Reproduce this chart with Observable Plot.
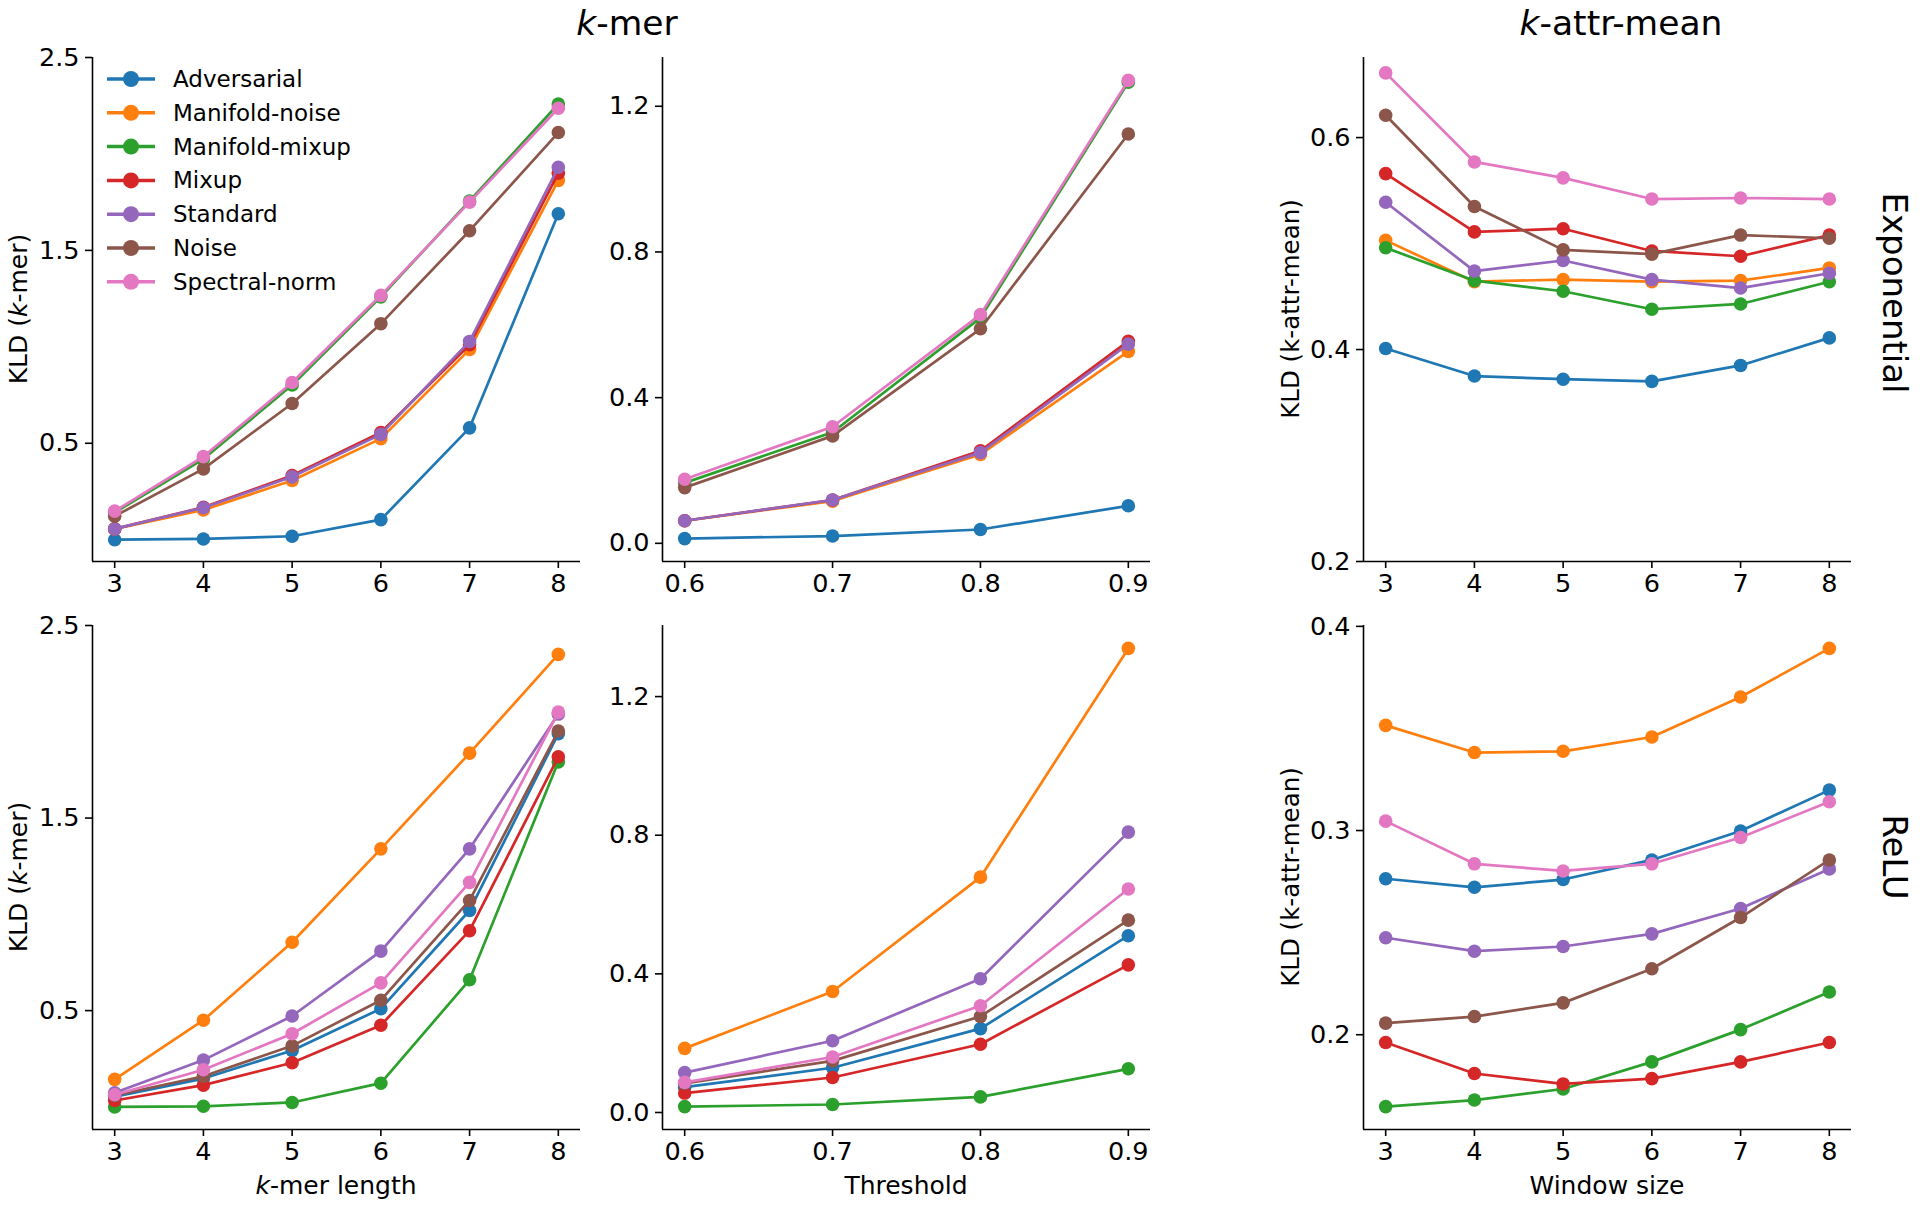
<!DOCTYPE html>
<html><head><meta charset="utf-8">
<script src="https://cdn.jsdelivr.net/npm/d3@7"></script>
<script src="https://cdn.jsdelivr.net/npm/@observablehq/plot@0.6"></script>
<style>
html,body{margin:0;padding:0;background:#fff;}
#root{position:relative;width:1920px;height:1207px;background:#fff;overflow:hidden;font-family:"DejaVu Sans",sans-serif;}
.panel{position:absolute;}
.panel svg{overflow:visible;}
#overlay{position:absolute;left:0;top:0;}
</style></head><body><div id="root"></div>
<script>
const methods = ["Adversarial","Manifold-noise","Manifold-mixup","Mixup","Standard","Noise","Spectral-norm"];
const colors = ["#1f77b4","#ff7f0e","#2ca02c","#d62728","#9467bd","#8c564b","#e377c2"];
const kmerLengths = [3,4,5,6,7,8];
const thresholds = [0.6,0.7,0.8,0.9];
const windowSizes = [3,4,5,6,7,8];

const kmerTicks = [0.5,1.5,2.5];
const thresholdTicks = [0.0,0.4,0.8,1.2];
const attrTicksExp = [0.2,0.4,0.6];
const attrTicksRelu = [0.2,0.3,0.4];

// rows follow the order of `methods`
const expKmerLength = [
  [0.000,0.004,0.018,0.104,0.580,1.690],
  [0.056,0.154,0.307,0.524,0.987,1.863],
  [0.141,0.418,0.802,1.259,1.756,2.259],
  [0.056,0.168,0.333,0.556,1.011,1.900],
  [0.056,0.166,0.326,0.546,1.028,1.931],
  [0.122,0.367,0.706,1.120,1.602,2.111],
  [0.148,0.431,0.815,1.267,1.750,2.237]
];
const expThreshold = [
  [0.013,0.020,0.038,0.103],
  [0.062,0.116,0.244,0.527],
  [0.166,0.305,0.619,1.266],
  [0.062,0.119,0.254,0.555],
  [0.062,0.119,0.249,0.547],
  [0.153,0.295,0.589,1.124],
  [0.176,0.320,0.628,1.271]
];
const expWindow = [
  [0.401,0.375,0.372,0.370,0.385,0.411],
  [0.503,0.464,0.466,0.464,0.465,0.477],
  [0.496,0.465,0.455,0.438,0.443,0.464],
  [0.566,0.511,0.514,0.493,0.488,0.508],
  [0.539,0.474,0.484,0.466,0.458,0.472],
  [0.621,0.535,0.494,0.490,0.508,0.505],
  [0.661,0.577,0.562,0.542,0.543,0.542]
];
const reluKmerLength = [
  [0.053,0.147,0.293,0.510,1.020,1.938],
  [0.143,0.450,0.855,1.340,1.837,2.350],
  [0.000,0.003,0.023,0.123,0.660,1.792],
  [0.033,0.113,0.229,0.424,0.915,1.818],
  [0.073,0.243,0.472,0.809,1.340,2.040],
  [0.059,0.159,0.317,0.554,1.072,1.952],
  [0.063,0.193,0.380,0.644,1.166,2.050]
];
const reluThreshold = [
  [0.073,0.129,0.242,0.510],
  [0.185,0.349,0.679,1.339],
  [0.017,0.023,0.045,0.126],
  [0.056,0.101,0.197,0.426],
  [0.115,0.207,0.386,0.809],
  [0.084,0.149,0.277,0.555],
  [0.087,0.160,0.308,0.645]
];
const reluWindow = [
  [0.2764,0.2722,0.2760,0.2856,0.2998,0.3198],
  [0.3515,0.3382,0.3388,0.3458,0.3654,0.3892],
  [0.1648,0.1680,0.1734,0.1867,0.2025,0.2209],
  [0.1962,0.1810,0.1759,0.1785,0.1867,0.1962],
  [0.2475,0.2409,0.2432,0.2494,0.2618,0.2812],
  [0.2057,0.2089,0.2156,0.2323,0.2574,0.2856],
  [0.3046,0.2837,0.2802,0.2837,0.2966,0.3141]
];

// layout
const cols = [[92,580],[662,1150],[1363,1851]];
const rows = [[57,561],[625,1129]];
const M = {left: 80, right: 20, top: 10, bottom: 50};
const LW = 2.7, R = 6.8, SPINE = 1.6, TICK = 25.5, LABEL = 25;

const root = document.getElementById("root");

function autoDomain(vals, ticks) {
  const lo = d3.min(vals), hi = d3.max(vals), pad = (hi - lo) * 0.05;
  let d = [lo - pad, hi + pad];
  if (ticks) { d[0] = Math.min(d[0], d3.min(ticks)); d[1] = Math.max(d[1], d3.max(ticks)); }
  return d;
}

function panel(col, row, xs, table, yTicks, xFmt) {
  const data = [];
  table.forEach((vals, i) => vals.forEach((v, j) => data.push({method: methods[i], x: xs[j], y: v, i})));
  const xd = autoDomain(xs);
  const yd = autoDomain(data.map(d => d.y), yTicks);
  const [x0, x1] = cols[col], [y0, y1] = rows[row];
  const marks = [
    Plot.ruleX([xd[0]], {stroke: "black", strokeWidth: SPINE}),
    Plot.ruleY([yd[0]], {stroke: "black", strokeWidth: SPINE}),
    Plot.axisX({ticks: xs, tickFormat: xFmt, tickSize: 7, tickPadding: 5, strokeWidth: SPINE, label: null, fontSize: TICK}),
    Plot.axisY({ticks: yTicks, tickFormat: d3.format(".1f"), tickSize: 7, tickPadding: 6, strokeWidth: SPINE, label: null, fontSize: TICK})
  ];
  methods.forEach((m, i) => {
    const s = data.filter(d => d.i === i);
    marks.push(Plot.line(s, {x: "x", y: "y", stroke: colors[i], strokeWidth: LW}));
    marks.push(Plot.dot(s, {x: "x", y: "y", fill: colors[i], r: R}));
  });
  const svg = Plot.plot({
    width: M.left + (x1 - x0) + M.right,
    height: M.top + (y1 - y0) + M.bottom,
    marginLeft: M.left, marginRight: M.right, marginTop: M.top, marginBottom: M.bottom,
    x: {domain: xd}, y: {domain: yd},
    style: {fontFamily: "DejaVu Sans", fontSize: TICK + "px", color: "black", background: "transparent", overflow: "visible"},
    marks
  });
  const div = document.createElement("div");
  div.className = "panel";
  div.style.left = (x0 - M.left) + "px";
  div.style.top = (y0 - M.top) + "px";
  div.appendChild(svg);
  root.appendChild(div);
}

const fInt = d3.format("d"), f1 = d3.format(".1f");
panel(0, 0, kmerLengths, expKmerLength, kmerTicks, fInt);
panel(1, 0, thresholds, expThreshold, thresholdTicks, f1);
panel(2, 0, windowSizes, expWindow, attrTicksExp, fInt);
panel(0, 1, kmerLengths, reluKmerLength, kmerTicks, fInt);
panel(1, 1, thresholds, reluThreshold, thresholdTicks, f1);
panel(2, 1, windowSizes, reluWindow, attrTicksRelu, fInt);

// overlay texts and legend
const ov = d3.select(root).append("svg").attr("id", "overlay")
  .attr("width", 1920).attr("height", 1207)
  .style("font-family", "DejaVu Sans");

function richText(g, parts) {
  parts.forEach(([t, it]) => g.append("tspan").attr("font-style", it ? "italic" : "normal").text(t));
}
// column titles
richText(ov.append("text").attr("x", 627).attr("y", 35).attr("text-anchor", "middle").attr("font-size", 34.5), [["k", 1], ["-mer", 0]]);
richText(ov.append("text").attr("x", 1621).attr("y", 35).attr("text-anchor", "middle").attr("font-size", 34.5), [["k", 1], ["-attr-mean", 0]]);
// row labels
ov.append("text").attr("transform", "translate(1895,293) rotate(90)").attr("text-anchor", "middle").attr("dy", "0.35em").attr("font-size", 34).text("Exponential");
ov.append("text").attr("transform", "translate(1895,857) rotate(90)").attr("text-anchor", "middle").attr("dy", "0.35em").attr("font-size", 34).text("ReLU");
// y labels
rows.forEach(([y0, y1]) => {
  const cy = (y0 + y1) / 2;
  richText(ov.append("text").attr("transform", `translate(27,${cy}) rotate(-90)`).attr("text-anchor", "middle").attr("font-size", LABEL),
    [["KLD (", 0], ["k", 1], ["-mer)", 0]]);
  ov.append("text").attr("transform", `translate(1299,${cy}) rotate(-90)`).attr("text-anchor", "middle").attr("font-size", LABEL - 0.5)
    .text("KLD (k-attr-mean)");
});
// x labels
const xl = 1194;
richText(ov.append("text").attr("x", (cols[0][0] + cols[0][1]) / 2).attr("y", xl).attr("text-anchor", "middle").attr("font-size", LABEL),
  [["k", 1], ["-mer length", 0]]);
ov.append("text").attr("x", (cols[1][0] + cols[1][1]) / 2).attr("y", xl).attr("text-anchor", "middle").attr("font-size", LABEL).text("Threshold");
ov.append("text").attr("x", (cols[2][0] + cols[2][1]) / 2).attr("y", xl).attr("text-anchor", "middle").attr("font-size", LABEL).text("Window size");
// legend
const lg = ov.append("g");
methods.forEach((m, i) => {
  const y = 79 + i * 33.8;
  lg.append("line").attr("x1", 107).attr("x2", 155).attr("y1", y).attr("y2", y).attr("stroke", colors[i]).attr("stroke-width", 3.5);
  lg.append("circle").attr("cx", 131).attr("cy", y).attr("r", 8).attr("fill", colors[i]);
  lg.append("text").attr("x", 173).attr("y", y).attr("dy", "0.35em").attr("font-size", 23).text(m);
});
</script></body></html>
